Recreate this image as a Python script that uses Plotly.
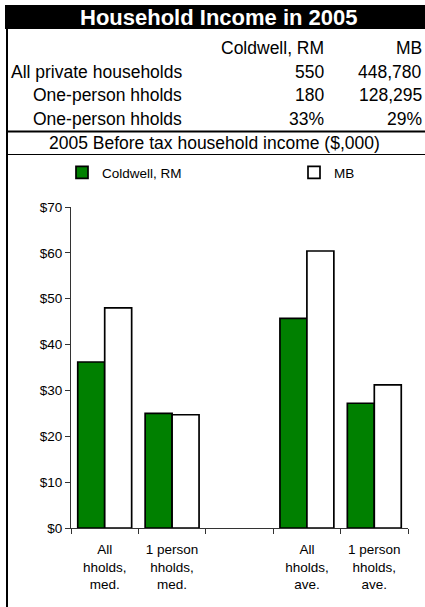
import plotly.graph_objects as go

# ---- data ----
categories = ["All<br>hholds,<br>med.", "1 person<br>hholds,<br>med.", " ",
              "All<br>hholds,<br>ave.", "1 person<br>hholds,<br>ave."]
coldwell_income = [36.2, 25.0, None, 45.7, 27.2]
mb_income = [48.0, 24.7, None, 60.4, 31.2]

series_names = ["Coldwell, RM", "MB"]
table_title = "Household Income in 2005"
table_rows = ["All private households", "One-person hholds", "One-person hholds"]
table_coldwell = ["550", "180", "33%"]
table_mb = ["448,780", "128,295", "29%"]
subtitle = "2005 Before tax household income ($,000)"
y_ticks = [0, 10, 20, 30, 40, 50, 60, 70]
y_tick_labels = ["$%d" % v for v in y_ticks]

# ---- layout geometry (pixels) ----
W, H = 425, 607
ML, MR, MT, MB_ = 71, 17, 207, 79
PW, PH = W - ML - MR, H - MT - MB_

def px(x):
    return (x - ML) / PW

def py(y):
    return (H - MB_ - y) / PH

FONT = "Liberation Sans, Arial, sans-serif"

fig = go.Figure()
fig.add_trace(go.Bar(
    x=categories, y=coldwell_income, name=series_names[0],
    marker=dict(color="#008000", line=dict(color="black", width=1.7)),
    legend="legend", showlegend=True,
))
fig.add_trace(go.Bar(
    x=categories, y=mb_income, name=series_names[1],
    marker=dict(color="white", line=dict(color="black", width=1.7)),
    legend="legend2", showlegend=True,
))

shapes = [
    dict(type="rect", xref="paper", yref="paper", x0=px(5), x1=px(425), y0=py(5), y1=py(29),
         fillcolor="black", line=dict(width=0), layer="below"),
    dict(type="line", xref="paper", yref="paper", x0=px(7), x1=px(7), y0=py(29), y1=py(607),
         line=dict(color="black", width=2)),
    dict(type="line", xref="paper", yref="paper", x0=px(6), x1=px(425), y0=py(131.5), y1=py(131.5),
         line=dict(color="black", width=2)),
    dict(type="line", xref="paper", yref="paper", x0=px(6), x1=px(425), y0=py(154.5), y1=py(154.5),
         line=dict(color="black", width=1)),
]

ann = []
def add_text(text, x, y, anchor, size=17.5, color="black", bold=False):
    ann.append(dict(text=("<b>%s</b>" % text) if bold else text, xref="paper", yref="paper",
                    x=px(x), y=py(y), xanchor=anchor, yanchor="middle", showarrow=False,
                    font=dict(family=FONT, size=size, color=color), borderpad=0))

add_text(table_title, 219, 17.5, "center", size=22, color="white", bold=True)
add_text(series_names[0], 325, 48, "right")
add_text(series_names[1], 423, 48, "right")
row_y = [72, 95.5, 119]
row_x = [10, 31.5, 31.5]
for i in range(3):
    add_text(table_rows[i], row_x[i], row_y[i], "left")
    add_text(table_coldwell[i], 325, row_y[i], "right")
    add_text(table_mb[i], 423, row_y[i], "right")
add_text(subtitle, 214.5, 142.5, "center")

fig.update_layout(
    width=W, height=H,
    margin=dict(l=ML, r=MR, t=MT, b=MB_, pad=0),
    paper_bgcolor="white", plot_bgcolor="white",
    font=dict(family=FONT, size=13.5, color="black"),
    barmode="group", bargap=0.2, bargroupgap=0,
    showlegend=True,
    shapes=shapes, annotations=ann,
    legend=dict(x=px(62), y=py(172.5), xanchor="left", yanchor="middle",
                orientation="h", font=dict(size=13.5), itemwidth=30,
                bgcolor="rgba(0,0,0,0)", borderwidth=0),
    legend2=dict(x=px(294), y=py(172.5), xanchor="left", yanchor="middle",
                 orientation="h", font=dict(size=13.5), itemwidth=30,
                 bgcolor="rgba(0,0,0,0)", borderwidth=0),
    xaxis=dict(type="category", tickson="boundaries", ticks="outside", ticklen=5,
               tickcolor="#333", showline=True, linecolor="#333", linewidth=1,
               showgrid=False, tickfont=dict(size=13.5), ticklabelstandoff=9),
    yaxis=dict(range=[0, 70], tickmode="array", tickvals=y_ticks, ticktext=y_tick_labels,
               ticks="outside", ticklen=5, tickcolor="#333", showline=True, linecolor="#333",
               linewidth=1, showgrid=False, zeroline=False, tickfont=dict(size=13.5)),
)

fig.write_html("out.html", config={"displayModeBar": False},
               post_script="document.body.style.margin='0';")
